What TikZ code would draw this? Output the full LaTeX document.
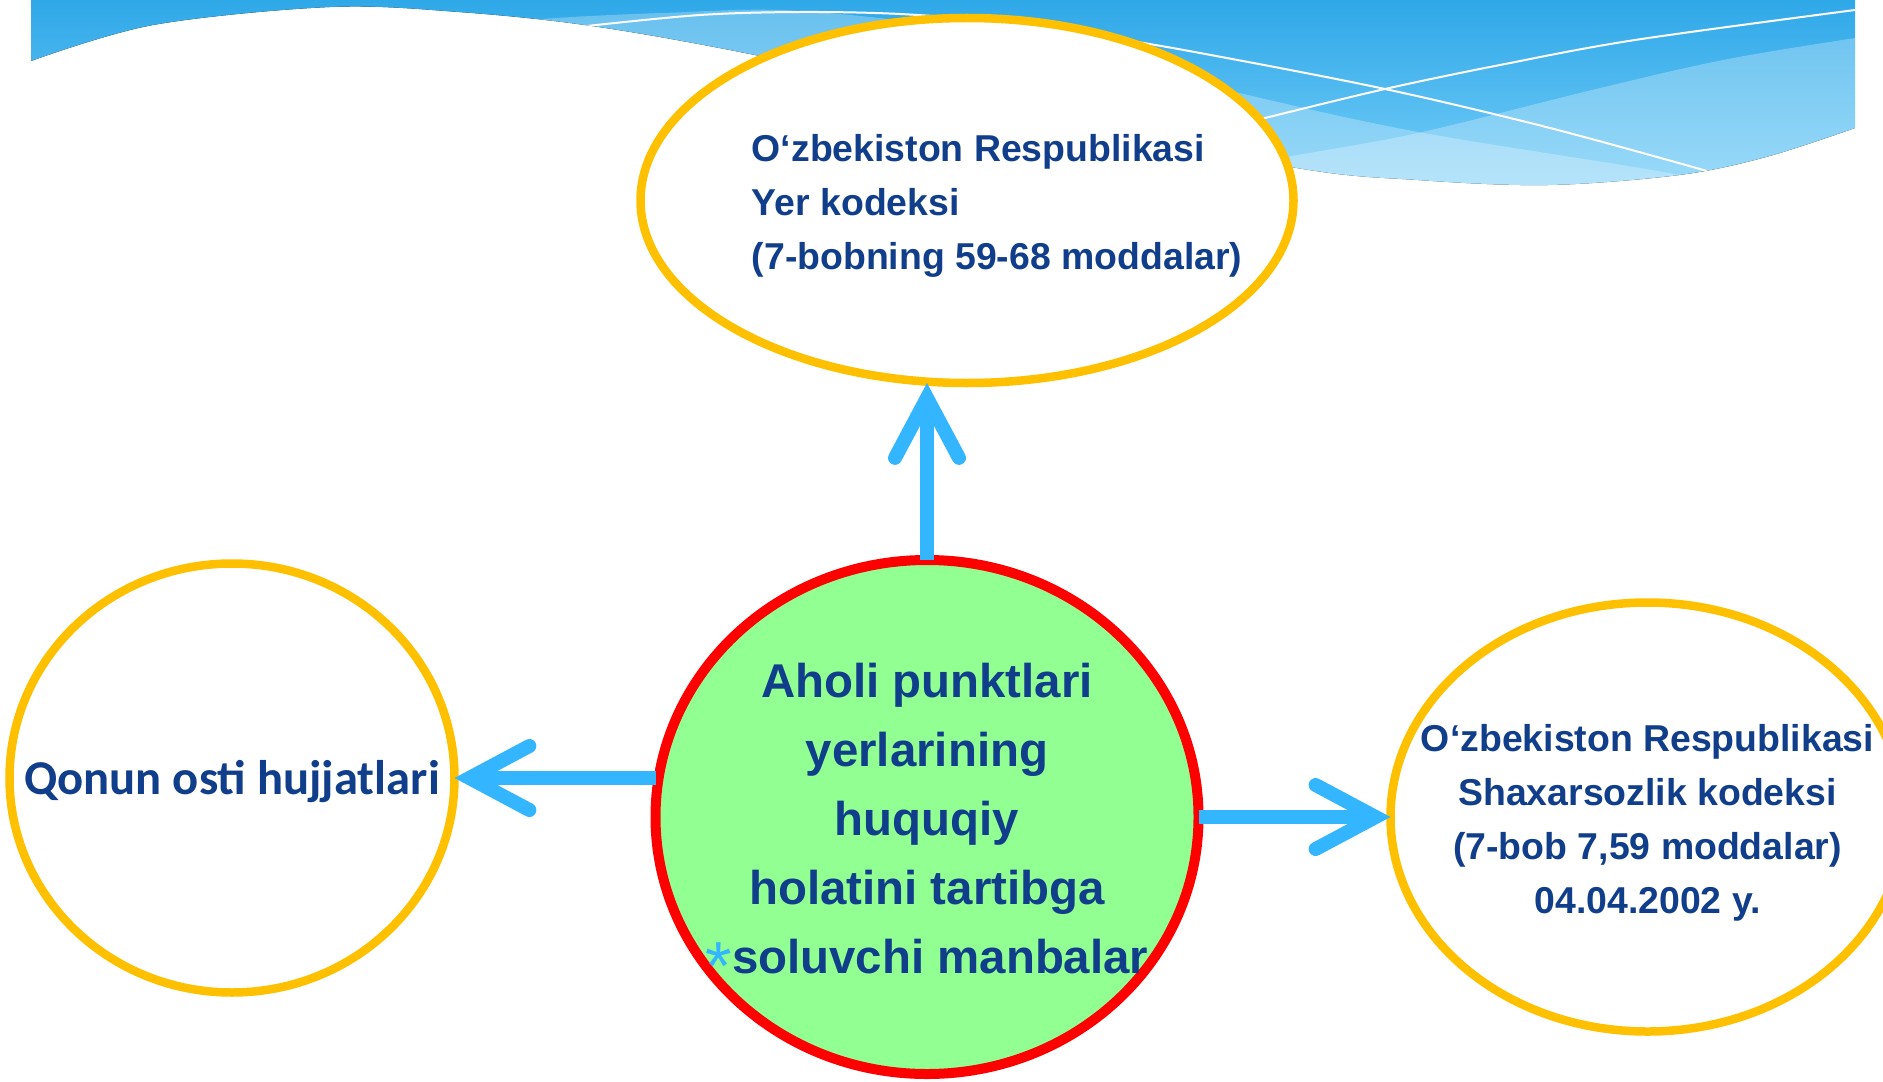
\documentclass[tikz,border=0pt]{standalone}
\usepackage{fontspec}
\setmainfont{Liberation Sans}
\newfontfamily\carlito{Carlito}
\usepackage{tikz}
\usetikzlibrary{arrows.meta, positioning, shapes.geometric}

\definecolor{txtblue}{RGB}{16,62,138}
\definecolor{ringgold}{RGB}{255,192,0}
\definecolor{coregreen}{RGB}{145,255,145}
\definecolor{arrblue}{RGB}{51,182,255}
\definecolor{wavetop}{RGB}{47,168,232}
\definecolor{wavebot}{RGB}{118,206,248}

\begin{document}
\begin{tikzpicture}[
  x=0.5pt, y=-0.5pt,
  ring/.style={ellipse, draw=ringgold, line width=4.25pt, fill=white,
               inner sep=0pt, outer sep=0pt},
  core/.style={ring, draw=red, line width=5pt, fill=coregreen},
  lbl/.style={text=txtblue, align=center, inner sep=0pt, yshift=-2.7pt,
              font=\bfseries\fontsize{18.7}{27}\selectfont},
  biglbl/.style={lbl, yshift=1.8pt, font=\bfseries\fontsize{23.7}{34.5}\selectfont},
  arr/.style={-{Straight Barb[length=30pt, width=32pt, line cap=round, line join=miter]},
              draw=arrblue, line width=7pt},
  wline/.style={draw=white, line width=1pt}
]
\useasboundingbox (0,0) rectangle (1883,1081);

% background wave
\begin{scope}
  \clip (31,0) -- plot[smooth, tension=.55] coordinates {(31,61) (153,25) (330,7) (459,12)
        (592,26) (755,55) (1000,108) (1291,167) (1418,180) (1548,185) (1679,175)
        (1766,157) (1855,128)} -- (1855,0) -- cycle;
  \fill[top color=wavetop, bottom color=wavebot] (31,0) rectangle (1855,190);
  \fill[white, opacity=.27] plot[smooth, tension=.55] coordinates {(460,28) (541,19)
        (663,13) (800,11) (1000,35) (1235,92) (1418,132) (1679,175) (1760,200)}
        -- (1760,300) -- (460,300) -- cycle;
  \fill[white, opacity=.27] plot[smooth, tension=.55] coordinates {(1200,175) (1287,157)
        (1418,133) (1592,90) (1723,60) (1855,38) (1900,32)}
        -- (1900,300) -- (1200,300) -- cycle;
  \draw[wline] plot[smooth, tension=.55] coordinates {(587,26) (700,15) (800,12) (900,14)
        (1000,22) (1100,36) (1200,53) (1385,89) (1550,128) (1707,171)};
  \draw[wline] plot[smooth, tension=.55] coordinates {(1230,127) (1265,118) (1385,89)
        (1500,65) (1635,40) (1855,10)};
\end{scope}

\node[core, minimum width=271.5pt, minimum height=257pt,
      label={[biglbl]center:{Aholi punktlari\\yerlarining\\huquqiy\\holatini tartibga\\
        {\color{arrblue}\mdseries\smash{\raisebox{-0.34em}{\fontsize{34}{34}\selectfont *}}}soluvchi manbalar}}] (c) at (927,817) {};
\node[ring, minimum width=326.5pt, minimum height=182.5pt, above=88.5pt of c, xshift=20pt,
      label={[lbl, align=left, xshift=15pt]center:{O‘zbekiston Respublikasi\\Yer kodeksi\\
        (7-bobning 59-68 moddalar)}}] (t) {};
\node[ring, minimum width=222.5pt, minimum height=214.5pt, left=100.5pt of c, yshift=19.5pt,
      label={[lbl, yshift=1pt, font=\carlito\bfseries\fontsize{24.3}{29}\selectfont]center:Qonun osti hujjatlari}] (l) {};
\node[ring, minimum width=257pt, minimum height=214.5pt, right=96pt of c,
      label={[lbl]center:{O‘zbekiston Respublikasi\\Shaxarsozlik kodeksi\\
        (7-bob 7,59 moddalar)\\04.04.2002 y.}}] (r) {};

\foreach \a/\b in {c.north/t.south -| c.north, l.east -| c.west/l.east, c.east/r.west}
  \draw[arr] (\a) -- (\b);
\end{tikzpicture}
\end{document}
